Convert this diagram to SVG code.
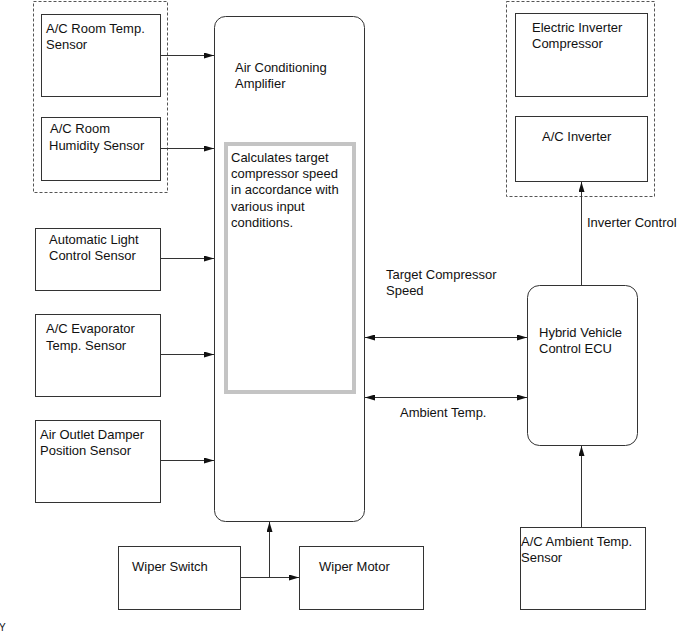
<svg xmlns="http://www.w3.org/2000/svg" width="679" height="632" viewBox="0 0 679 632">
<style>
text{font-family:"Liberation Sans",Arial,sans-serif;font-size:13px;fill:#111}
.box{fill:#fff;stroke:#333;stroke-width:1}
.dash{fill:none;stroke:#555;stroke-width:1;stroke-dasharray:3,2}
.ln{fill:none;stroke:#333;stroke-width:1}
</style>
<defs>
<marker id="ah" viewBox="0 0 10 6" refX="10" refY="3" markerWidth="10" markerHeight="6" markerUnits="userSpaceOnUse" orient="auto-start-reverse">
<path d="M0,0 L10,3 L0,6 Z" fill="#111"/>
</marker>
</defs>
<rect width="679" height="632" fill="#fff"/>
<rect class="dash" x="33.5" y="1.5" width="134" height="191"/>
<rect class="dash" x="506.5" y="1.5" width="148" height="195"/>
<g id="room-temp"><rect class="box" x="41.5" y="14.5" width="119" height="82"/><text x="46" y="33">A/C Room Temp.</text><text x="46" y="49">Sensor</text></g>
<g id="room-humidity"><rect class="box" x="41.5" y="117.5" width="119" height="63"/><text x="50" y="133">A/C Room</text><text x="49" y="150">Humidity Sensor</text></g>
<g id="auto-light"><rect class="box" x="35.5" y="228.5" width="125" height="62"/><text x="49" y="244">Automatic Light</text><text x="49" y="260">Control Sensor</text></g>
<g id="evaporator"><rect class="box" x="35.5" y="314.5" width="125" height="82"/><text x="46" y="333">A/C Evaporator</text><text x="46" y="350">Temp. Sensor</text></g>
<g id="damper"><rect class="box" x="35.5" y="420.5" width="125" height="82"/><text x="40" y="439">Air Outlet Damper</text><text x="40" y="455">Position Sensor</text></g>
<g id="amplifier"><rect class="box" x="214.5" y="16.5" width="150" height="505" rx="11"/><text x="235" y="72">Air Conditioning</text><text x="235" y="88">Amplifier</text>
<rect x="226" y="144" width="128" height="248" fill="none" stroke="#c4c4c4" stroke-width="4"/>
<text x="231" y="162">Calculates target</text><text x="231" y="178">compressor speed</text><text x="231" y="194">in accordance with</text><text x="231" y="211">various input</text><text x="231" y="227">conditions.</text></g>
<g id="compressor"><rect class="box" x="515.5" y="13.5" width="132" height="83"/><text x="532" y="32">Electric Inverter</text><text x="532" y="48">Compressor</text></g>
<g id="inverter"><rect class="box" x="515.5" y="116.5" width="132" height="65"/><text x="542" y="141">A/C Inverter</text></g>
<g id="hv-ecu"><rect class="box" x="527.5" y="285.5" width="110" height="160" rx="12"/><text x="539" y="337">Hybrid Vehicle</text><text x="539" y="353">Control ECU</text></g>
<g id="ambient-sensor"><rect class="box" x="520.5" y="527.5" width="125" height="82"/><text x="521" y="546">A/C Ambient Temp.</text><text x="521" y="562">Sensor</text></g>
<g id="wiper-switch"><rect class="box" x="118.5" y="546.5" width="122" height="63"/><text x="132" y="571">Wiper Switch</text></g>
<g id="wiper-motor"><rect class="box" x="299.5" y="546.5" width="124" height="63"/><text x="319" y="571">Wiper Motor</text></g>
<g id="connectors">
<line class="ln" x1="160" y1="55.5" x2="214" y2="55.5" marker-end="url(#ah)"/>
<line class="ln" x1="160" y1="148.5" x2="214" y2="148.5" marker-end="url(#ah)"/>
<line class="ln" x1="160" y1="258.5" x2="214" y2="258.5" marker-end="url(#ah)"/>
<line class="ln" x1="160" y1="354.5" x2="214" y2="354.5" marker-end="url(#ah)"/>
<line class="ln" x1="160" y1="460.5" x2="214" y2="460.5" marker-end="url(#ah)"/>
<line class="ln" x1="365" y1="337.5" x2="527" y2="337.5" marker-start="url(#ah)" marker-end="url(#ah)"/>
<line class="ln" x1="365" y1="397.5" x2="527" y2="397.5" marker-start="url(#ah)" marker-end="url(#ah)"/>
<line class="ln" x1="581.5" y1="285" x2="581.5" y2="182" marker-end="url(#ah)"/>
<line class="ln" x1="581.5" y1="527" x2="581.5" y2="446" marker-end="url(#ah)"/>
<line class="ln" x1="240" y1="577.5" x2="299" y2="577.5" marker-end="url(#ah)"/>
<line class="ln" x1="269.5" y1="577.5" x2="269.5" y2="522" marker-end="url(#ah)"/>
<text x="386" y="279">Target Compressor</text><text x="386" y="295">Speed</text>
<text x="400" y="417">Ambient Temp.</text>
<text x="587" y="227">Inverter Control</text>
</g>
<text x="-1" y="631" style="font-size:10px">Y</text>
</svg>
